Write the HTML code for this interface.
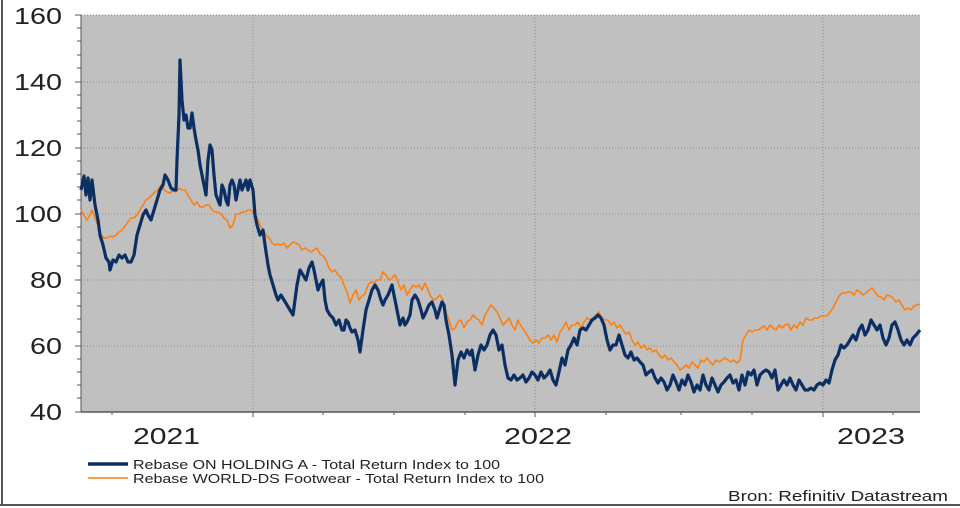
<!DOCTYPE html>
<html><head><meta charset="utf-8"><style>
html,body{margin:0;padding:0;background:#fff;}
svg{display:block;font-family:"Liberation Sans",Arial,sans-serif;}
</style></head><body>
<svg width="960" height="508" viewBox="0 0 960 508">
<rect x="0" y="0" width="960" height="508" fill="#fff"/>
<line x1="2" y1="0" x2="2" y2="505" stroke="#555" stroke-width="2"/>
<line x1="0" y1="505" x2="960" y2="505" stroke="#555" stroke-width="2"/>
<rect x="81" y="15" width="839" height="397" fill="#c0c0c0"/>
<g stroke="#8a8a8a" stroke-width="1" stroke-dasharray="1,2">
<line x1="81" y1="15" x2="920" y2="15"/>
<line x1="81" y1="82" x2="920" y2="82"/>
<line x1="81" y1="148" x2="920" y2="148"/>
<line x1="81" y1="214" x2="920" y2="214"/>
<line x1="81" y1="280" x2="920" y2="280"/>
<line x1="81" y1="346" x2="920" y2="346"/>
<line x1="253" y1="15" x2="253" y2="412"/>
<line x1="535" y1="15" x2="535" y2="412"/>
<line x1="823" y1="15" x2="823" y2="412"/>
</g>
<g stroke="#555" stroke-width="1">
<line x1="81" y1="15" x2="81" y2="412"/>
<line x1="81" y1="412" x2="920" y2="412" stroke-width="1.5"/>
<line x1="75" y1="15" x2="81" y2="15"/><line x1="75" y1="82" x2="81" y2="82"/><line x1="75" y1="148" x2="81" y2="148"/><line x1="75" y1="214" x2="81" y2="214"/><line x1="75" y1="280" x2="81" y2="280"/><line x1="75" y1="346" x2="81" y2="346"/><line x1="75" y1="412" x2="81" y2="412"/>
<line x1="77" y1="28" x2="81" y2="28"/><line x1="77" y1="41" x2="81" y2="41"/><line x1="77" y1="55" x2="81" y2="55"/><line x1="77" y1="68" x2="81" y2="68"/>
<line x1="77" y1="95" x2="81" y2="95"/><line x1="77" y1="108" x2="81" y2="108"/><line x1="77" y1="121" x2="81" y2="121"/><line x1="77" y1="134" x2="81" y2="134"/>
<line x1="77" y1="161" x2="81" y2="161"/><line x1="77" y1="174" x2="81" y2="174"/><line x1="77" y1="187" x2="81" y2="187"/><line x1="77" y1="200" x2="81" y2="200"/>
<line x1="77" y1="227" x2="81" y2="227"/><line x1="77" y1="240" x2="81" y2="240"/><line x1="77" y1="253" x2="81" y2="253"/><line x1="77" y1="266" x2="81" y2="266"/>
<line x1="77" y1="293" x2="81" y2="293"/><line x1="77" y1="306" x2="81" y2="306"/><line x1="77" y1="319" x2="81" y2="319"/><line x1="77" y1="332" x2="81" y2="332"/>
<line x1="77" y1="359" x2="81" y2="359"/><line x1="77" y1="372" x2="81" y2="372"/><line x1="77" y1="385" x2="81" y2="385"/><line x1="77" y1="398" x2="81" y2="398"/>
<line x1="253" y1="412" x2="253" y2="417"/><line x1="535" y1="412" x2="535" y2="417"/><line x1="823" y1="412" x2="823" y2="417"/>
<line x1="112" y1="412" x2="112" y2="415"/><line x1="323" y1="412" x2="323" y2="415"/><line x1="394" y1="412" x2="394" y2="415"/><line x1="465" y1="412" x2="465" y2="415"/><line x1="606" y1="412" x2="606" y2="415"/><line x1="681" y1="412" x2="681" y2="415"/><line x1="752" y1="412" x2="752" y2="415"/><line x1="893" y1="412" x2="893" y2="415"/>
</g>
<g font-size="23" fill="#222" lengthAdjust="spacingAndGlyphs">
<text x="14" y="24" textLength="48" lengthAdjust="spacingAndGlyphs">160</text>
<text x="14" y="90" textLength="48" lengthAdjust="spacingAndGlyphs">140</text>
<text x="14" y="156" textLength="48" lengthAdjust="spacingAndGlyphs">120</text>
<text x="14" y="222" textLength="48" lengthAdjust="spacingAndGlyphs">100</text>
<text x="30" y="288" textLength="32" lengthAdjust="spacingAndGlyphs">80</text>
<text x="30" y="354" textLength="32" lengthAdjust="spacingAndGlyphs">60</text>
<text x="30" y="420" textLength="32" lengthAdjust="spacingAndGlyphs">40</text>
</g>
<g font-size="23" fill="#222">
<text x="133" y="444" textLength="67" lengthAdjust="spacingAndGlyphs">2021</text>
<text x="504" y="444" textLength="68" lengthAdjust="spacingAndGlyphs">2022</text>
<text x="837" y="444" textLength="68" lengthAdjust="spacingAndGlyphs">2023</text>
</g>
<polyline fill="none" stroke="#ff7f0e" stroke-width="1.6" stroke-linejoin="round" points="81,210 84,215 87,220 90,215 92,210 95,218 98,225 101,235 104,238 107,238 110,236 113,237 116,235 119,232 122,230 125,226 128,222 131,218 134,218 137,215 140,210 143,205 146,200 149,198 152,195 155,192 158,190 161,185 164,190 167,192 170,193 173,190 176,192 179,188 182,190 185,190 188,195 191,200 194,205 197,202 200,207 203,207 206,205 209,205 212,210 215,212 218,212 221,214 224,218 227,220 230,228 233,225 236,214 239,214 242,212 245,212 248,210 251,210 254,213 257,218 260,225 263,230 266,235 269,238 272,243 275,245 278,244 281,245 284,243 287,248 290,245 293,242 296,243 299,245 302,250 305,248 308,250 311,252 314,250 317,248 320,254 323,256 326,260 329,268 332,272 335,270 338,275 341,277 344,285 347,292 350,303 353,295 356,290 359,300 362,296 365,294 368,285 371,282 374,283 377,280 380,280 383,272 386,275 389,280 392,278 395,275 398,282 401,290 404,285 407,295 410,290 413,285 416,287 419,285 422,290 425,283 428,290 431,297 434,300 437,298 440,295 443,300 446,312 449,320 452,330 455,328 458,322 461,320 464,328 467,322 470,320 473,315 476,318 479,320 482,325 485,315 488,310 491,305 494,308 497,312 500,318 503,325 506,322 509,318 512,325 515,330 518,320 521,326 524,330 527,335 530,340 533,343 536,340 539,343 542,338 545,338 548,335 551,340 554,335 557,342 560,332 563,328 566,322 569,330 572,325 575,325 578,322 581,328 584,322 587,318 590,320 593,318 596,315 599,312 602,318 605,320 608,320 611,325 614,322 617,328 620,325 623,330 626,334 629,332 632,340 635,345 638,342 641,348 644,345 647,350 650,348 653,352 656,350 659,355 662,358 665,355 668,360 671,358 674,362 677,365 680,370 683,368 686,365 689,368 692,362 695,365 698,368 701,360 704,362 707,358 710,362 713,365 716,360 719,362 722,360 725,358 728,360 731,362 734,360 737,363 740,360 743,340 746,335 749,330 752,332 755,330 758,330 761,328 764,326 767,330 770,325 773,328 776,330 779,325 782,328 785,325 788,324 791,330 794,325 797,328 800,322 803,325 806,318 809,320 812,320 815,318 818,318 821,316 824,316 827,316 830,312 833,308 836,302 839,296 842,293 845,293 848,292 851,292 854,295 857,290 860,292 863,295 866,293 869,290 872,288 875,292 878,296 881,297 884,300 887,295 890,296 893,298 896,302 899,300 902,305 905,310 908,308 911,310 914,306 917,305 920,304"/>
<polyline fill="none" stroke="#0b2f63" stroke-width="3.2" stroke-linejoin="round" points="81,190 84,176 86,195 88,178 90,200 92,180 95,205 98,220 100,235 103,245 106,258 109,262 110,270 113,260 116,262 119,255 122,258 125,255 128,262 131,262 134,255 137,235 140,225 143,215 146,210 148,215 151,220 154,210 157,200 160,190 163,185 165,175 168,180 171,188 174,190 176,190 177,160 179,115 180,60 182,100 184,120 186,115 188,128 190,128 192,113 194,128 196,140 198,150 200,165 202,175 204,185 206,195 208,160 210,145 212,150 214,175 216,195 218,200 220,205 222,185 224,190 226,200 228,205 230,185 232,180 234,185 236,200 238,190 240,180 242,190 244,185 246,180 248,190 250,180 253,190 255,215 257,225 260,235 263,230 265,245 268,265 270,275 273,285 276,295 278,300 281,295 284,300 287,305 290,310 293,315 295,300 297,285 300,270 303,275 306,280 309,268 312,262 314,270 316,280 318,290 320,285 323,280 325,300 327,310 330,315 333,318 336,325 339,320 342,330 344,330 346,320 348,322 350,328 352,332 355,330 358,340 360,352 363,330 366,310 369,300 372,290 375,285 378,290 381,300 383,305 385,300 388,295 390,290 392,285 395,300 398,315 400,325 403,318 405,325 407,322 410,315 412,300 415,295 418,300 421,310 423,318 426,312 429,305 432,302 435,310 437,318 440,308 442,302 444,305 446,320 449,335 452,355 455,385 458,360 461,352 464,358 467,350 470,355 472,350 475,370 478,355 481,345 484,350 487,345 490,335 493,330 496,335 499,350 502,345 505,365 508,378 511,380 514,375 517,380 520,378 523,375 526,382 529,378 532,372 535,375 538,380 541,372 544,378 547,375 550,370 553,380 556,385 559,372 562,358 565,365 568,350 571,345 574,338 577,345 580,330 583,328 586,330 589,325 592,320 595,318 598,315 601,318 604,325 607,340 610,350 613,345 616,345 619,335 622,345 625,355 628,358 631,352 634,360 637,358 640,362 643,365 646,375 649,372 652,370 655,378 658,383 661,378 664,382 667,390 670,385 673,375 676,382 679,390 682,380 685,385 688,375 691,382 694,392 697,385 700,390 703,375 706,385 709,390 712,378 715,385 718,392 721,385 724,382 727,378 730,375 733,383 736,380 739,390 742,375 745,385 748,372 751,375 754,370 757,385 760,375 763,372 766,370 769,372 772,378 775,370 778,390 781,385 784,380 787,385 790,378 793,385 796,390 799,380 802,385 805,390 808,390 811,388 814,390 817,385 820,383 823,385 826,380 829,383 832,370 835,360 838,355 841,345 844,348 847,345 850,340 853,335 856,340 859,330 862,325 865,335 868,330 871,320 874,325 877,330 880,325 883,338 886,345 889,338 892,325 895,322 898,330 901,340 904,345 907,340 910,345 913,338 916,335 920,330"/>
<line x1="88" y1="464" x2="128" y2="464" stroke="#0b2f63" stroke-width="3.5"/>
<line x1="88" y1="478" x2="128" y2="478" stroke="#ff7f0e" stroke-width="1.6"/>
<g font-size="13" fill="#222">
<text x="133" y="469" textLength="367" lengthAdjust="spacingAndGlyphs">Rebase ON HOLDING A - Total Return Index to 100</text>
<text x="133" y="483" textLength="411" lengthAdjust="spacingAndGlyphs">Rebase WORLD-DS Footwear - Total Return Index to 100</text>
</g>
<text x="728" y="501" font-size="15" fill="#222" textLength="220" lengthAdjust="spacingAndGlyphs">Bron: Refinitiv Datastream</text>
</svg>
</body></html>
